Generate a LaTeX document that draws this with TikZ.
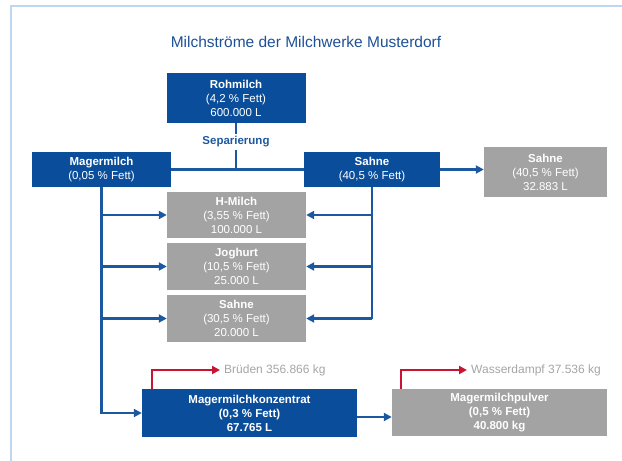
\documentclass[tikz,border=0pt]{standalone}
\usepackage{fontspec}
\setmainfont{Liberation Sans}
\usetikzlibrary{arrows.meta}
\definecolor{boxblue}{RGB}{10,78,155}
\definecolor{boxgray}{RGB}{163,163,163}
\definecolor{lineblue}{RGB}{28,88,160}
\definecolor{flowred}{RGB}{200,20,50}
\definecolor{titleblue}{RGB}{30,80,150}
\definecolor{framecol}{RGB}{190,215,240}
\definecolor{labelgray}{RGB}{165,165,165}
\begin{document}
\begin{tikzpicture}[x=1pt,y=-1pt,
  boxbase/.style={text=white,inner sep=0pt,align=center,font=\fontsize{11.5}{14}\selectfont},
  bluebox/.style={boxbase,fill=boxblue},
  graybox/.style={boxbase,fill=boxgray},
  flow/.style={draw=lineblue,line width=2.2pt},
  flowarrow/.style={flow,-{Triangle[length=8pt,width=8pt]}},
  redarrow/.style={draw=flowred,line width=2.2pt,-{Triangle[length=8pt,width=8pt]}},
  sidelabel/.style={text=labelgray,font=\fontsize{12}{14}\selectfont,anchor=west,inner sep=0pt}]
\useasboundingbox (0,0) rectangle (622,461);
% frame
\draw[framecol,line width=1.5pt] (11,461) -- (11,6) -- (622,6);
% title
\node[text=titleblue,font=\fontsize{15.5}{18}\selectfont] (title) at (306,42) {Milchströme der Milchwerke Musterdorf};
% boxes
\node[bluebox,minimum width=139pt,minimum height=50pt] (roh) at (236,98)
  {\textbf{Rohmilch}\\(4,2 \% Fett)\\600.000 L};
\node[text=lineblue,font=\bfseries\fontsize{11.5}{14}\selectfont,inner sep=2pt] (sep) at (236,142) {Separierung};
\node[bluebox,minimum width=139pt,minimum height=35pt] (mager) at (101.5,169.5)
  {\textbf{Magermilch}\\(0,05 \% Fett)};
\node[bluebox,minimum width=136pt,minimum height=35pt] (sahne) at (372,169.5)
  {\textbf{Sahne}\\(40,5 \% Fett)};
\node[graybox,minimum width=123pt,minimum height=50pt] (sahneR) at (545.5,172)
  {\textbf{Sahne}\\(40,5 \% Fett)\\32.883 L};
\node[graybox,minimum width=139pt,minimum height=46pt] (hmilch) at (236.5,215)
  {\textbf{H-Milch}\\(3,55 \% Fett)\\100.000 L};
\node[graybox,minimum width=139pt,minimum height=47pt] (jog) at (236.5,266.5)
  {\textbf{Joghurt}\\(10,5 \% Fett)\\25.000 L};
\node[graybox,minimum width=139pt,minimum height=47pt] (sahne30) at (236.5,318.5)
  {\textbf{Sahne}\\(30,5 \% Fett)\\20.000 L};
\node[bluebox,minimum width=215pt,minimum height=48pt,font=\bfseries\fontsize{11.5}{14}\selectfont] (konz) at (249.5,413)
  {Magermilchkonzentrat\\(0,3 \% Fett)\\67.765 L};
\node[graybox,minimum width=215pt,minimum height=47pt,font=\bfseries\fontsize{11.5}{14}\selectfont] (pulver) at (499.5,412.5)
  {Magermilchpulver\\(0,5 \% Fett)\\40.800 kg};
% side labels
\node[sidelabel] (brueden) at (224,370) {Brüden 356.866 kg};
\node[sidelabel] (dampf) at (471,370) {Wasserdampf 37.536 kg};
% separation
\coordinate (join) at (sep.south |- mager.east);
\draw[flow] (roh.south) -- (sep.north);
\draw[flow] (sep.south) -- (join);
\draw[flow] (mager.east) -- (sahne.west);
\draw[flowarrow] (sahne.east) -- (sahne.east -| sahneR.west);
% left trunk
\draw[flowarrow] (mager.south) |- (konz.west);
\draw[flowarrow] (mager.south |- hmilch.west) -- (hmilch.west);
\draw[flowarrow] (mager.south |- jog.west) -- (jog.west);
\draw[flowarrow] (mager.south |- sahne30.west) -- (sahne30.west);
% right trunk
\draw[flow] (sahne.south) -- (sahne.south |- sahne30.east);
\draw[flowarrow] (sahne.south |- hmilch.east) -- (hmilch.east);
\draw[flowarrow] (sahne.south |- jog.east) -- (jog.east);
\draw[flowarrow] (sahne.south |- sahne30.east) -- (sahne30.east);
% bottom
\draw[flowarrow] (konz.east |- 0,417) -- (pulver.west |- 0,417);
\coordinate (r1) at ([xshift=10pt]konz.north west);
\coordinate (r2) at ([xshift=9pt]pulver.north west);
\draw[redarrow,shorten >=4pt] (r1) |- (brueden.west);
\draw[redarrow,shorten >=4pt] (r2) |- (dampf.west);
\end{tikzpicture}
\end{document}
